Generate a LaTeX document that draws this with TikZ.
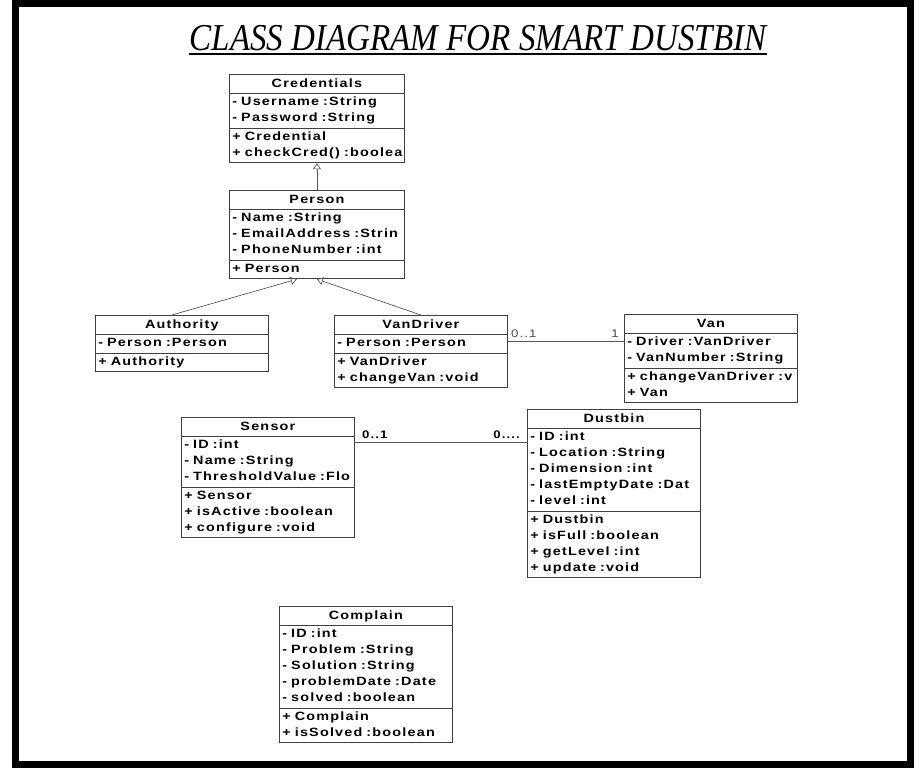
\documentclass[tikz,border=0pt]{standalone}
\usepackage{fontspec}
\usepackage{tikz}
\usetikzlibrary{arrows.meta, shapes.multipart}
\newfontfamily\umlfont[FakeStretch=1.2, LetterSpace=10]{Liberation Sans}
\newfontfamily\titlefont[FakeStretch=0.87]{Liberation Serif}
\hyphenpenalty=10000
\tikzset{
  classbox/.style={draw=black!75, line width=0.8pt, rectangle split, rectangle split parts=3,
    anchor=north west, inner xsep=3pt, inner ysep=1pt, align=left, text width=167pt,
    font=\umlfont\bfseries\fontsize{12}{16}\selectfont},
  inherit/.style={draw=black!65, line width=0.7pt, -{Triangle[open, length=6pt, width=8pt]}},
  assoc/.style={draw=black!65, line width=0.7pt},
  mult/.style={font=\umlfont\fontsize{11}{13}\selectfont, text=black!70, inner sep=1pt},
}

\begin{document}
\begin{tikzpicture}[x=1pt, y=-1pt]
  \useasboundingbox (0,0) rectangle (919,771);
  \draw[line width=7pt] (15.5,3.5) rectangle (910.5,764.5);

  % title
  \node[inner sep=0pt, anchor=base] (title) at (478,50)
    {\titlefont\itshape\fontsize{38}{40}\selectfont CLASS DIAGRAM FOR SMART DUSTBIN};
  \draw[line width=1.8pt] ([yshift=-4pt]title.base west) -- ([yshift=-4pt]title.base east);

  % classes
  \node[classbox, text width=169pt] (cred) at (229,74)
    {\strut\hfill Credentials\hfill\strut
     \nodepart{second}\strut-~Username~:String\\-~Password~:String\strut
     \nodepart{third}\strut+~Credential\\+~checkCred()~:boolea\strut};

  \node[classbox, text width=169pt] (person) at (229,190)
    {\strut\hfill Person\hfill\strut
     \nodepart{second}\strut-~Name~:String\\-~EmailAddress~:Strin\\-~PhoneNumber~:int\strut
     \nodepart{third}\strut+~Person\strut};

  \node[classbox] (auth) at (95,315)
    {\strut\hfill Authority\hfill\strut
     \nodepart{second}\strut-~Person~:Person\strut
     \nodepart{third}\strut+~Authority\strut};

  \node[classbox] (driver) at (334,315)
    {\strut\hfill VanDriver\hfill\strut
     \nodepart{second}\strut-~Person~:Person\strut
     \nodepart{third}\strut+~VanDriver\\+~changeVan~:void\strut};

  \node[classbox] (van) at (624,314)
    {\strut\hfill Van\hfill\strut
     \nodepart{second}\strut-~Driver~:VanDriver\\-~VanNumber~:String\strut
     \nodepart{third}\strut+~changeVanDriver~:v\\+~Van\strut};

  \node[classbox] (sensor) at (181,417)
    {\strut\hfill Sensor\hfill\strut
     \nodepart{second}\strut-~ID~:int\\-~Name~:String\\-~ThresholdValue~:Flo\strut
     \nodepart{third}\strut+~Sensor\\+~isActive~:boolean\\+~configure~:void\strut};

  \node[classbox] (dustbin) at (527,409)
    {\strut\hfill Dustbin\hfill\strut
     \nodepart{second}\strut-~ID~:int\\-~Location~:String\\-~Dimension~:int\\-~lastEmptyDate~:Dat\\-~level~:int\strut
     \nodepart{third}\strut+~Dustbin\\+~isFull~:boolean\\+~getLevel~:int\\+~update~:void\strut};

  \node[classbox] (complain) at (279,606)
    {\strut\hfill Complain\hfill\strut
     \nodepart{second}\strut-~ID~:int\\-~Problem~:String\\-~Solution~:String\\-~problemDate~:Date\\-~solved~:boolean\strut
     \nodepart{third}\strut+~Complain\\+~isSolved~:boolean\strut};

  % generalisation
  \draw[inherit] (person.north) -- (cred.south);
  \draw[inherit] ([xshift=-10pt]auth.north) -- ([xshift=-20pt]person.south);
  \draw[inherit] (driver.north) -- (person.south);

  % associations
  \draw[assoc] ([yshift=-26pt]driver.north east) -- ([yshift=-27pt]van.north west);
  \node[mult, anchor=south west] (m1) at (510,339) {0..1};
  \node[mult, anchor=south east] (m2) at (620,339) {1};

  \draw[assoc] ([yshift=-25pt]sensor.north east) -- ([yshift=-33pt]dustbin.north west);
  \node[mult, anchor=south west, text=black, font=\umlfont\bfseries\fontsize{11}{13}\selectfont] (m3) at (361,440) {0..1};
  \node[mult, anchor=south east, text=black, font=\umlfont\bfseries\fontsize{11}{13}\selectfont] (m4) at (521,440) {0....};
\end{tikzpicture}
\end{document}
